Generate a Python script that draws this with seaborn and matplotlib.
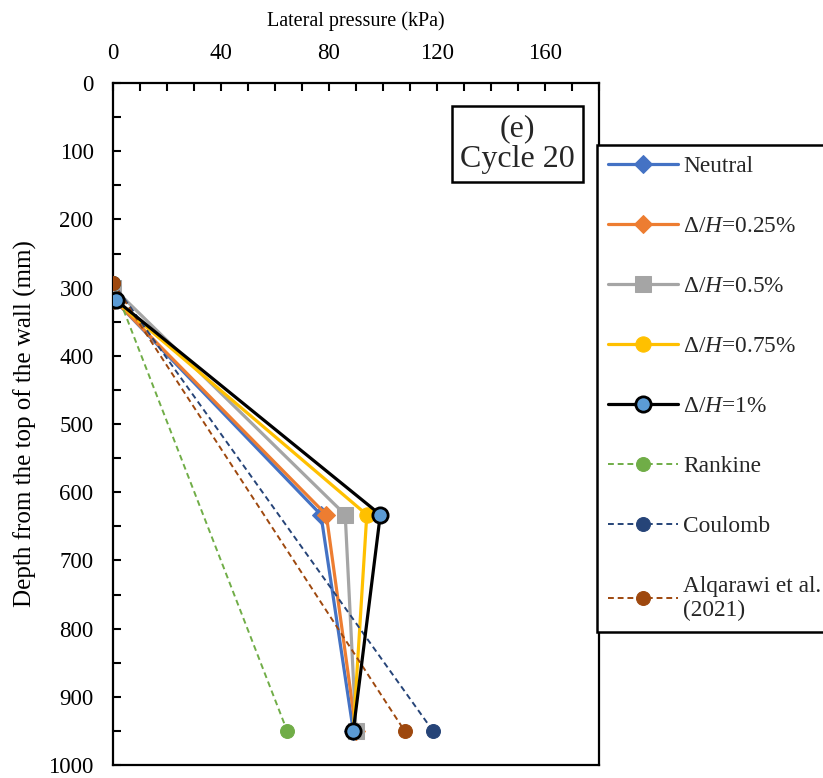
import matplotlib
matplotlib.use("Agg")
import matplotlib.pyplot as plt
from matplotlib.ticker import MultipleLocator
import seaborn as sns
import pandas as pd

sns.set_theme(style="white")
plt.rcParams["font.family"] = ["Liberation Serif", "DejaVu Serif"]
plt.rcParams["mathtext.fontset"] = "custom"
plt.rcParams["mathtext.rm"] = "Liberation Serif"
plt.rcParams["mathtext.it"] = "Liberation Serif:italic"

# Measured lateral pressure (kPa) at each pressure-cell depth (mm)
depth_exp = [318, 633, 950]
neutral = [0.5, 77, 89]
dh_025 = [0.5, 79, 90]
dh_05 = [0, 86, 90]
dh_05_depth = [300, 633, 950]
dh_075 = [0.5, 94, 89]
dh_1 = [1, 99, 89]

# Theoretical distributions
depth_theory = [293, 950]
rankine = [0, 64.5]
coulomb = [0, 118.5]
alqarawi = [0, 108]

labels = ["Neutral", r"$\mathit{\Delta/H}$=0.25%", r"$\mathit{\Delta/H}$=0.5%",
          r"$\mathit{\Delta/H}$=0.75%", r"$\mathit{\Delta/H}$=1%",
          "Rankine", "Coulomb", "Alqarawi et al.\n(2021)"]

fig = plt.figure(figsize=(8.23, 7.78), dpi=100)
ax = fig.add_axes([113 / 823, 1 - 765 / 778, 486 / 823, 682 / 778])

dash = (0, (3, 2))
series = [
    (neutral, depth_exp, dict(color="#4472C4", marker="D", markersize=9, lw=2.3,
                              linestyle="-", markeredgecolor="#4472C4"), 3),
    (dh_025, depth_exp, dict(color="#ED7D31", marker="D", markersize=9, lw=2.3,
                             linestyle="-", markeredgecolor="#ED7D31"), 3.1),
    (dh_05, dh_05_depth, dict(color="#A5A5A5", marker="s", markersize=11, lw=2.3,
                              linestyle="-", markeredgecolor="#A5A5A5"), 3.2),
    (dh_075, depth_exp, dict(color="#FFC000", marker="o", markersize=11, lw=2.3,
                             linestyle="-", markeredgecolor="#FFC000"), 3.3),
    (dh_1, depth_exp, dict(color="black", marker="o", markersize=11, lw=2.3,
                           linestyle="-", markerfacecolor="#5B9BD5",
                           markeredgecolor="black", markeredgewidth=2), 3.6),
    (rankine, depth_theory, dict(color="#70AD47", marker="o", markersize=10, lw=1.4,
                                 linestyle=dash, markeredgecolor="#70AD47"), 3.4),
    (coulomb, depth_theory, dict(color="#264478", marker="o", markersize=10, lw=1.4,
                                 linestyle=dash, markeredgecolor="#264478"), 3.4),
    (alqarawi, depth_theory, dict(color="#9E480E", marker="o", markersize=10, lw=1.4,
                                  linestyle=dash, markeredgecolor="#9E480E"), 3.5),
]

handles = []
for (xs, ys, style, z), lab in zip(series, labels):
    df = pd.DataFrame({"p": xs, "d": ys})
    sns.lineplot(data=df, x="p", y="d", sort=False, estimator=None, ax=ax,
                 zorder=z, **style)
    handles.append(ax.get_lines()[-1])

ax.set_xlim(0, 180)
ax.set_ylim(1000, 0)
ax.xaxis.tick_top()
ax.xaxis.set_label_position("top")
ax.xaxis.set_major_locator(MultipleLocator(40))
ax.xaxis.set_minor_locator(MultipleLocator(10))
ax.yaxis.set_major_locator(MultipleLocator(100))
ax.yaxis.set_minor_locator(MultipleLocator(50))
ax.tick_params(which="both", direction="in", length=6, width=1.5, color="black",
               top=True, bottom=False, left=True, right=False,
               labelsize=16.5, labelcolor="black", pad=14)
ax.set_xlabel("Lateral pressure (kPa)", fontsize=14.5, labelpad=12, color="black")
ax.set_ylabel("Depth from the top of the wall (mm)", fontsize=18, labelpad=8,
              color="black")
for s in ax.spines.values():
    s.set_visible(True)
    s.set_color("black")
    s.set_linewidth(1.6)

ax.text(0.833, 0.9106, "(e)\nCycle 20", transform=ax.transAxes, ha="center",
        va="center", fontsize=23, linespacing=1.05, zorder=6,
        bbox=dict(boxstyle="square,pad=0.25", facecolor="white", edgecolor="black",
                  linewidth=1.8))

leg = fig.legend(handles, labels, loc="upper left",
                 bbox_to_anchor=(597 / 823, 1 - 145 / 778),
                 bbox_transform=fig.transFigure, fontsize=16.8, frameon=True,
                 fancybox=False, edgecolor="black", framealpha=1,
                 handlelength=3.0, handletextpad=0.25, labelspacing=1.66,
                 borderpad=0.45, borderaxespad=0)
leg.get_frame().set_linewidth(1.8)

fig.savefig("out.png", dpi=100)
